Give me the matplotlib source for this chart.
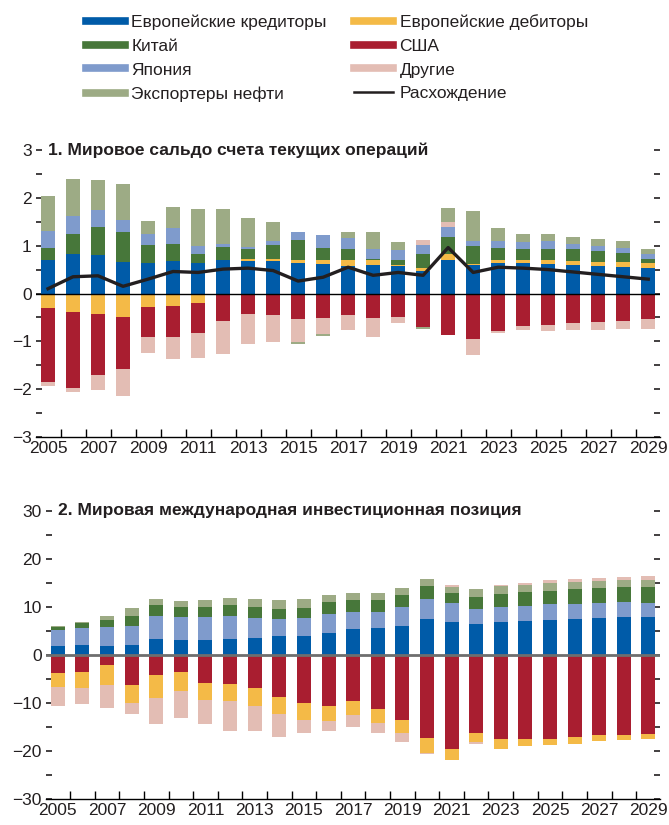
import numpy as np
import matplotlib
matplotlib.use("Agg")
import matplotlib.pyplot as plt
from matplotlib.lines import Line2D
from matplotlib.ticker import MultipleLocator

plt.rcParams['font.family'] = ['Liberation Sans', 'DejaVu Sans']

years = list(range(2005, 2030))
year_labels = [str(y) for y in years if y % 2 == 1]

# Panel 1: current account balance
ca_eur_cred = [0.69, 0.82, 0.80, 0.65, 0.63, 0.67, 0.63, 0.69, 0.67, 0.67, 0.63, 0.61, 0.57,
               0.59, 0.57, 0.48, 0.71, 0.59, 0.63, 0.63, 0.61, 0.59, 0.57, 0.55, 0.53]
ca_eur_deb = [-0.30, -0.39, -0.43, -0.49, -0.28, -0.26, -0.20, -0.03, 0.06, 0.06, 0.08, 0.10, 0.12,
              0.12, 0.02, 0.05, 0.11, 0.02, 0.08, 0.08, 0.10, 0.08, 0.08, 0.10, 0.10]
ca_china = [0.27, 0.43, 0.58, 0.64, 0.39, 0.37, 0.19, 0.29, 0.21, 0.29, 0.40, 0.25, 0.23,
            0.02, 0.10, 0.29, 0.37, 0.39, 0.25, 0.23, 0.23, 0.25, 0.23, 0.19, 0.10]
ca_japan = [0.35, 0.36, 0.37, 0.24, 0.23, 0.32, 0.18, 0.06, 0.04, 0.07, 0.18, 0.27, 0.25,
            0.21, 0.21, 0.19, 0.21, 0.09, 0.13, 0.13, 0.15, 0.12, 0.12, 0.12, 0.10]
ca_usa = [-1.56, -1.58, -1.27, -1.08, -0.63, -0.65, -0.62, -0.54, -0.43, -0.45, -0.53, -0.51, -0.45,
          -0.51, -0.49, -0.70, -0.87, -0.95, -0.78, -0.68, -0.66, -0.62, -0.60, -0.57, -0.53]
ca_other = [-0.08, -0.08, -0.31, -0.58, -0.33, -0.45, -0.52, -0.69, -0.62, -0.56, -0.48, -0.33, -0.31,
            -0.40, -0.13, 0.11, 0.10, -0.33, -0.04, -0.08, -0.12, -0.14, -0.16, -0.17, -0.21]
ca_oil = [0.73, 0.78, 0.62, 0.76, 0.27, 0.45, 0.77, 0.73, 0.60, 0.41, -0.04, -0.05, 0.12,
          0.35, 0.17, -0.04, 0.29, 0.64, 0.27, 0.18, 0.16, 0.15, 0.13, 0.13, 0.10]
ca_discrepancy = [0.10, 0.35, 0.37, 0.15, 0.30, 0.46, 0.44, 0.51, 0.53, 0.48, 0.26, 0.34, 0.55,
                  0.38, 0.44, 0.38, 0.96, 0.44, 0.55, 0.53, 0.50, 0.45, 0.40, 0.35, 0.30]

# Panel 2: net international investment position
iip_eur_cred = [1.8, 2.0, 1.8, 2.0, 3.25, 3.05, 3.05, 3.25, 3.5, 3.9, 3.9, 4.5, 5.35,
                5.55, 6.0, 7.45, 6.8, 6.4, 6.8, 7.0, 7.25, 7.45, 7.65, 7.85, 7.85]
iip_japan = [3.35, 3.55, 3.95, 3.95, 4.8, 4.8, 4.8, 4.8, 4.15, 3.55, 3.75, 4.0, 3.55,
             3.35, 3.95, 4.15, 3.95, 3.15, 3.15, 3.15, 3.35, 3.15, 3.15, 3.15, 2.95]
iip_china = [0.63, 1.05, 1.45, 2.1, 2.3, 2.1, 2.1, 2.3, 2.3, 2.1, 2.1, 2.5, 2.5,
             2.5, 2.5, 2.7, 2.1, 2.5, 2.7, 2.9, 2.7, 3.15, 3.15, 3.15, 3.35]
iip_oil = [0.2, 0.2, 0.85, 1.65, 1.25, 1.25, 1.45, 1.45, 1.65, 1.9, 1.9, 1.45, 1.45,
           1.45, 1.45, 1.45, 1.25, 1.65, 1.65, 1.45, 1.65, 1.45, 1.45, 1.45, 1.45]
iip_usa = [-3.8, -3.6, -2.15, -6.35, -4.25, -3.6, -5.9, -6.1, -6.95, -8.85, -10.1, -10.7, -9.65,
           -11.35, -13.45, -17.2, -19.5, -16.15, -17.6, -17.4, -17.4, -17.0, -16.75, -16.75, -16.55]
iip_eur_deb = [-2.9, -3.35, -4.2, -3.75, -4.8, -4.0, -3.55, -3.55, -3.75, -3.35, -3.35, -3.15, -2.95,
               -2.9, -2.7, -3.15, -2.3, -1.9, -1.9, -1.65, -1.45, -1.45, -1.25, -1.05, -0.85]
iip_other = [-4.0, -3.35, -4.6, -2.1, -5.4, -5.6, -5.0, -6.25, -5.2, -4.8, -2.7, -1.9, -2.3,
             -2.1, -1.9, -0.2, 0.4, -0.4, 0.2, 0.6, 0.6, 0.6, 0.6, 0.6, 0.85]

labels = {
    'ec': 'Европейские кредиторы',
    'ed': 'Европейские дебиторы',
    'cn': 'Китай',
    'us': 'США',
    'jp': 'Япония',
    'ot': 'Другие',
    'oil': 'Экспортеры нефти',
    'disc': 'Расхождение',
}
colors = {
    'ec': '#005BA8',
    'ed': '#F4BA47',
    'cn': '#47773A',
    'us': '#A91E30',
    'jp': '#7F9BCC',
    'ot': '#E3BDB4',
    'oil': '#9DAB85',
}
line_color = '#231F20'

x = np.arange(len(years))
bar_w = 0.57


def stacked(ax, series):
    pos = np.zeros(len(x))
    neg = np.zeros(len(x))
    for key, vals in series:
        v = np.array(vals, dtype=float)
        bottom = np.where(v >= 0, pos, neg)
        ax.bar(x, v, bar_w, bottom=bottom, color=colors[key], linewidth=0, zorder=2)
        pos = pos + np.where(v >= 0, v, 0)
        neg = neg + np.where(v < 0, v, 0)


def style_axis(ax, lim, step, title, title_x):
    ax.set_xlim(-0.48, len(years) - 0.53)
    ax.set_ylim(-lim, lim)
    for s in ['top', 'left', 'right']:
        ax.spines[s].set_visible(False)
    ax.spines['bottom'].set_linewidth(1.0)
    ax.yaxis.set_major_locator(MultipleLocator(step))
    ax.yaxis.set_minor_locator(MultipleLocator(step / 2))
    ax.tick_params(axis='y', which='both', direction='in', left=True, right=True,
                   length=4, width=1.2, labelsize=12.5, pad=3, colors='#231F20')
    ax.set_xticks(x[::2])
    ax.set_xticklabels(year_labels)
    ax.set_xticks(x[:-1] + 0.5, minor=True)
    ax.tick_params(axis='x', which='major', length=0, labelsize=12.5, pad=3, colors='#231F20')
    ax.tick_params(axis='x', which='minor', direction='in', length=6, width=1)
    ax.text(title_x, 1.0, title, transform=ax.transAxes, ha='left', va='center',
            fontsize=12.5, fontweight='bold', color='#231F20')


fig = plt.figure(figsize=(6.69, 8.25), dpi=100)

ax1 = fig.add_axes([36 / 669, 1 - 437 / 825, 624 / 669, 287 / 825])
stacked(ax1, [('ec', ca_eur_cred), ('ed', ca_eur_deb), ('cn', ca_china), ('jp', ca_japan),
              ('us', ca_usa), ('ot', ca_other), ('oil', ca_oil)])
ax1.axhline(0, color='black', lw=1.0, zorder=3)
ax1.plot(x, ca_discrepancy, color=line_color, lw=2.4, zorder=4)
style_axis(ax1, 3, 1, '1. Мировое сальдо счета текущих операций', 0.02)

ax2 = fig.add_axes([46 / 669, 1 - 799 / 825, 614 / 669, 288 / 825])
stacked(ax2, [('ec', iip_eur_cred), ('jp', iip_japan), ('cn', iip_china), ('oil', iip_oil),
              ('us', iip_usa), ('ed', iip_eur_deb), ('ot', iip_other)])
ax2.axhline(0, color='#6E6E6E', lw=2.0, zorder=3)
style_axis(ax2, 30, 10, '2. Мировая международная инвестиционная позиция', 0.02)

# legend
handles = [Line2D([], [], color=colors[k], lw=5.5) for k in ['ec', 'cn', 'jp', 'oil', 'ed', 'us', 'ot']]
handles.append(Line2D([], [], color=line_color, lw=1.8))
names = [labels[k] for k in ['ec', 'cn', 'jp', 'oil', 'ed', 'us', 'ot', 'disc']]
fig.legend(handles, names, ncol=2, loc='upper left', bbox_to_anchor=(86 / 669, 1 - 14 / 825),
           frameon=False, fontsize=12.5, handlelength=2.25, handletextpad=0.35,
           labelspacing=0.5, columnspacing=1.6, borderaxespad=0, borderpad=0,
           labelcolor='#231F20')

fig.savefig('out.png', dpi=100)
